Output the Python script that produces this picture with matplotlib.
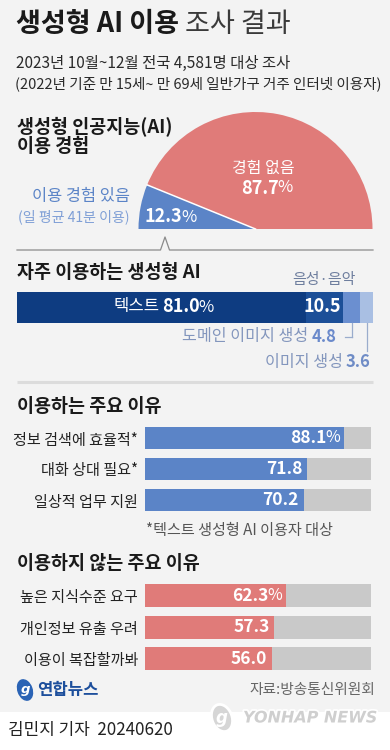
import matplotlib
matplotlib.use('Agg')
import matplotlib.pyplot as plt
from matplotlib.patches import Rectangle, Ellipse
from matplotlib.transforms import blended_transform_factory
import matplotlib.patheffects as pe
import numpy as np

plt.rcParams['font.family'] = ['Noto Sans CJK KR', 'DejaVu Sans']

# ---------------- data ----------------
pie_labels = ['이용 경험 있음', '경험 없음']
pie_values = [12.3, 87.7]
freq_labels = ['텍스트', '음성·음악', '도메인 이미지 생성', '이미지 생성']
freq_values = [81.0, 10.5, 4.8, 3.6]
use_labels = ['정보 검색에 효율적*', '대화 상대 필요*', '일상적 업무 지원']
use_values = [88.1, 71.8, 70.2]
nouse_labels = ['높은 지식수준 요구', '개인정보 유출 우려', '이용이 복잡할까봐']
nouse_values = [62.3, 57.3, 56.0]

# ---------------- style ----------------
BG = '#f3f3f3'
NAVY = '#0e3c81'
DARK2 = '#1c4f98'
MID = '#6b8fd0'
LIGHT = '#a9bfe3'
BLUE = '#5b84c7'
RED = '#e07b79'
GRAY = '#c9c9c9'

W, H = 390, 750
fig = plt.figure(figsize=(3.9, 7.5), dpi=100)
fig.patch.set_facecolor('white')

# background axes (bottom)
bg = fig.add_axes([0, 0, 1, 1], zorder=0)
bg.set_xlim(0, W)
bg.set_ylim(H, 0)
bg.axis('off')
bg.add_patch(Rectangle((0, 0), W, 712, color=BG, zorder=0, lw=0))

# overlay axes for text & annotations (top)
main = fig.add_axes([0, 0, 1, 1], zorder=10)
main.set_xlim(0, W)
main.set_ylim(H, 0)
main.axis('off')
renderer = fig.canvas.get_renderer()


def rect(x0, y0, x1, y1):
    return [x0 / W, 1 - y1 / H, (x1 - x0) / W, (y1 - y0) / H]


def width_of(t):
    return t.get_window_extent(renderer).width


HEAD = 13.3

# ---------------- title ----------------
t = main.text(16, 24, '생성형 AI 이용', fontsize=19.5, fontweight='bold', color='#1a1a1a', va='center')
w = width_of(t)
main.text(16 + w + 6, 24, '조사 결과', fontsize=19.5, color='#3a3a3a', va='center')
main.text(16, 63, '2023년 10월~12월 전국 4,581명 대상 조사', fontsize=11.1, color='#2a2a2a', va='center')
main.text(15, 84, '(2022년 기준 만 15세~ 만 69세 일반가구 거주 인터넷 이용자)', fontsize=10.5,
          color='#2a2a2a', va='center')

# ---------------- pie ----------------
main.text(17, 127, '생성형 인공지능(AI)', fontsize=HEAD, fontweight='bold', color='#1a1a1a', va='center')
main.text(17, 146, '이용 경험', fontsize=HEAD, fontweight='bold', color='#1a1a1a', va='center')

cx, cy, r = 255.5, 229, 117
pax = fig.add_axes(rect(cx - r, cy - r, cx + r, cy + r), zorder=2)
pax.pie(pie_values + [sum(pie_values)], colors=[BLUE, RED, (0, 0, 0, 0)], startangle=180,
        counterclock=False, radius=1, wedgeprops=dict(linewidth=0, edgecolor='none'))
pax.set_xlim(-1, 1)
pax.set_ylim(-1, 1)
pax.axis('off')
theta = np.deg2rad(180 - pie_values[0] / sum(pie_values) * 180)
pax.plot([0, np.cos(theta)], [0, np.sin(theta)], color='white', lw=1.1)

main.text(263, 168, pie_labels[1], fontsize=11.5, color='white', ha='center', va='center')
t = main.text(293, 188, '%', fontsize=12, color='white', ha='right', va='center')
main.text(293 - width_of(t) + 1, 188, f'{pie_values[1]:.1f}', fontsize=13, fontweight='bold',
          color='white', ha='right', va='center')
main.text(130, 197, pie_labels[0], fontsize=11.8, color=BLUE, ha='right', va='center')
main.text(130, 217, '(일 평균 41분 이용)', fontsize=10.1, color='#7f9fd6', ha='right', va='center')
t = main.text(145, 217, f'{pie_values[0]:.1f}', fontsize=13, fontweight='bold', color='white',
              ha='left', va='center')
main.text(145 + width_of(t) - 1.5, 217, '%', fontsize=12, color='white', ha='left', va='center')

main.plot([17, 160.5, 165, 169.5, 373], [250, 250, 237, 250, 250], color='#8a8a8a', lw=0.9)

# ---------------- frequently used ----------------
main.text(17, 272, '자주 이용하는 생성형 AI', fontsize=HEAD, fontweight='bold', color='#1a1a1a', va='center')
fax = fig.add_axes(rect(17, 292, 373, 323), zorder=2)
lefts = np.concatenate([[0], np.cumsum(freq_values)[:-1]])
fax.barh([0] * 4, freq_values, left=lefts, height=1, color=[NAVY, DARK2, MID, LIGHT], lw=0)
fax.set_xlim(0, sum(freq_values))
fax.set_ylim(-0.5, 0.5)
fax.axis('off')
centers = lefts + np.array(freq_values) / 2
bt = blended_transform_factory(fax.transData, main.transData)

# 텍스트 81.0%
main.annotate(freq_labels[0], (centers[0], 307), xycoords=bt, xytext=(-2, 0), textcoords='offset pixels',
              fontsize=12, color='white', ha='right', va='center')
t = main.annotate(f'{freq_values[0]:.1f}', (centers[0], 307), xycoords=bt, xytext=(1, 0),
                  textcoords='offset pixels', fontsize=13, fontweight='bold', color='white',
                  ha='left', va='center')
main.annotate('%', (centers[0], 307), xycoords=bt, xytext=(width_of(t) - 0.5, 0),
              textcoords='offset pixels', fontsize=12, color='white', ha='left', va='center')
# 10.5
main.annotate(f'{freq_values[1]:.1f}', (lefts[1] + freq_values[1], 307), xycoords=bt, xytext=(-2, 0),
              textcoords='offset pixels', fontsize=13, fontweight='bold', color='white',
              ha='right', va='center')
main.annotate(freq_labels[1], (centers[1], 280), xycoords=bt, fontsize=10.8, color='#6e7e9e',
              ha='center', va='center')
# 도메인 이미지 생성 4.8
LC = '#9aaccc'
main.plot([centers[2], centers[2]], [323, 337], transform=bt, color=LC, lw=0.9)
x_c2 = fax.transData.transform((centers[2], 0))[0]
main.plot([x_c2 - 7, x_c2], [337, 337], color=LC, lw=0.9)
t = main.annotate(f'{freq_values[2]:.1f}', (centers[2], 337), xycoords=bt, xytext=(-15, 0),
                  textcoords='offset pixels', fontsize=12, fontweight='bold', color='#6b8acb',
                  ha='right', va='center')
main.annotate(freq_labels[2], (centers[2], 337), xycoords=bt, xytext=(-15 - width_of(t) - 3, 0),
              textcoords='offset pixels', fontsize=11.6, color='#8396bd', ha='right', va='center')
# 이미지 생성 3.6
main.plot([centers[3], centers[3]], [323, 351], transform=bt, color=LC, lw=0.9)
t = main.annotate(f'{freq_values[3]:.1f}', (centers[3], 362), xycoords=bt, xytext=(4, 0),
                  textcoords='offset pixels', fontsize=12, fontweight='bold', color='#6f8cc6',
                  ha='right', va='center')
main.annotate(freq_labels[3], (centers[3], 362), xycoords=bt, xytext=(4 - width_of(t) - 3, 0),
              textcoords='offset pixels', fontsize=11.6, color='#8396bd', ha='right', va='center')

main.plot([17, 373], [382, 382], color='#dcdcdc', lw=2.2, solid_capstyle='butt')


# ---------------- reason bars ----------------
def reason_axes(top, pitch, barh_frac, labels, values, color):
    ax = fig.add_axes(rect(145, top, 371, top + pitch * len(values)), zorder=2)
    y = np.arange(len(values))
    ax.barh(y, [100] * len(values), height=barh_frac, color=GRAY, lw=0)
    ax.barh(y, values, height=barh_frac, color=color, lw=0)
    ax.set_xlim(0, 100)
    ax.set_ylim(len(values) - 0.5, -0.5)
    ax.set_facecolor('none')
    for s in ax.spines.values():
        s.set_visible(False)
    ax.set_xticks([])
    ax.set_yticks(y)
    ax.set_yticklabels(labels, fontsize=10.9, color='#222222')
    ax.tick_params(axis='y', length=0, pad=5)
    for i, v in enumerate(values):
        if i == 0:
            tt = ax.annotate('%', (v, i), xytext=(-4, 0), textcoords='offset pixels', fontsize=11.5,
                             color='white', ha='right', va='center')
            off = -4 - width_of(tt) + 1.5
        else:
            off = -5
        ax.annotate(f'{v:.1f}', (v, i), xytext=(off, 0), textcoords='offset pixels', fontsize=12.5,
                    fontweight='bold', color='white', ha='right', va='center')
    return ax


main.text(17, 407, '이용하는 주요 이유', fontsize=HEAD, fontweight='bold', color='#1a1a1a', va='center')
reason_axes(422.5, 31, 0.71, use_labels, use_values, BLUE)
main.text(146, 530, '*텍스트 생성형 AI 이용자 대상', fontsize=10.9, color='#555555', va='center')

main.text(17, 563, '이용하지 않는 주요 이유', fontsize=HEAD, fontweight='bold', color='#1a1a1a', va='center')
reason_axes(580, 31.5, 0.73, nouse_labels, nouse_values, RED)

# ---------------- footer ----------------
main.add_patch(Ellipse((25, 690), 14, 21, angle=-20, color='#2a63b5', zorder=3))
main.text(25, 690, 'g', fontsize=9.5, color='white', style='italic', fontweight='bold',
          ha='center', va='center', zorder=4, family='DejaVu Sans')
main.text(37, 690, '연합뉴스', fontsize=12, fontweight='bold', color='#1d4f9c', va='center')
main.text(375, 690, '자료:방송통신위원회', fontsize=10.6, color='#666666', ha='right', va='center')
main.text(8, 730, '김민지 기자  20240620', fontsize=12.2, color='#222222', va='center')

wm = [pe.withStroke(linewidth=2.5, foreground='white')]
main.add_patch(Ellipse((222, 718), 20, 28, angle=-20, facecolor='#d6d6d6', edgecolor='white', lw=2, zorder=3))
main.text(222, 718, 'g', fontsize=12, color='white', style='italic', fontweight='bold',
          ha='center', va='center', zorder=4, family='DejaVu Sans')
main.text(243, 718, 'YONHAP NEWS', fontsize=11.5, color='#cfcfcf', style='italic', fontweight='bold',
          va='center', family='DejaVu Sans', path_effects=wm, zorder=4)

fig.savefig('out.png', dpi=100, facecolor='white')
